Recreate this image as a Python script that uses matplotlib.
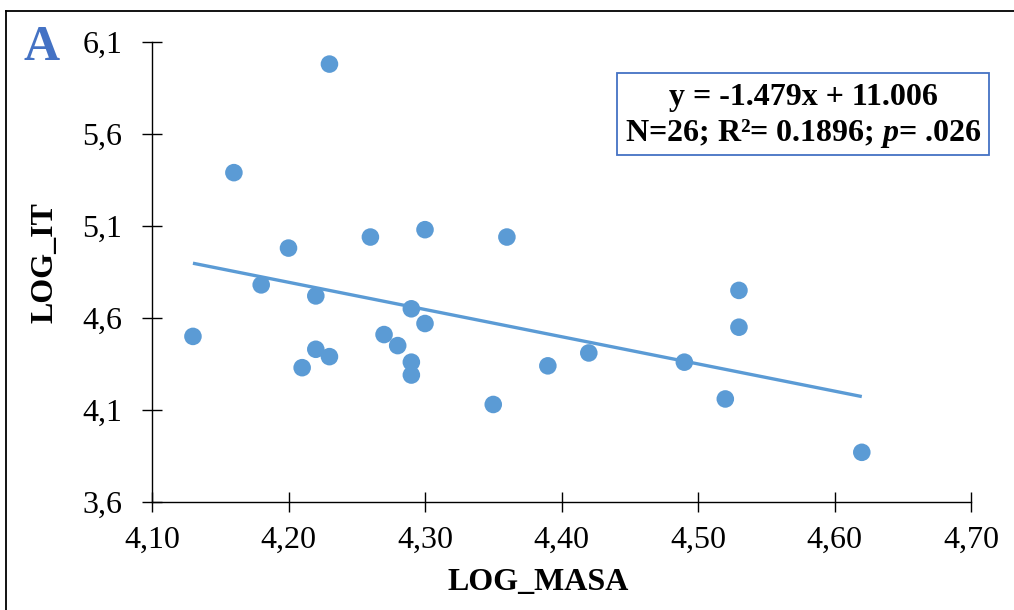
import matplotlib
matplotlib.use("Agg")
import matplotlib.pyplot as plt
from matplotlib.lines import Line2D
from matplotlib.patches import Rectangle
from matplotlib.ticker import FixedLocator, FuncFormatter
import numpy as np

plt.rcParams['font.family'] = ['Liberation Serif', 'DejaVu Serif']
plt.rcParams['mathtext.fontset'] = 'custom'
plt.rcParams['mathtext.it'] = 'Liberation Serif:bold:italic'
plt.rcParams['mathtext.rm'] = 'Liberation Serif:bold'
plt.rcParams['mathtext.bf'] = 'Liberation Serif:bold'

# Data
log_masa = [4.13, 4.16, 4.23, 4.20, 4.18, 4.22, 4.21, 4.22, 4.23, 4.26,
            4.27, 4.28, 4.29, 4.29, 4.29, 4.30, 4.30, 4.36, 4.35, 4.39,
            4.42, 4.49, 4.53, 4.53, 4.52, 4.62]
log_it = [4.50, 5.39, 5.98, 4.98, 4.78, 4.72, 4.33, 4.43, 4.39, 5.04,
          4.51, 4.45, 4.65, 4.36, 4.29, 5.08, 4.57, 5.04, 4.13, 4.34,
          4.41, 4.36, 4.75, 4.55, 4.16, 3.87]
slope = -1.479
intercept = 11.006
x_ticks = [4.10, 4.20, 4.30, 4.40, 4.50, 4.60, 4.70]
y_ticks = [3.6, 4.1, 4.6, 5.1, 5.6, 6.1]
eq_line = "y = -1.479x + 11.006"
stats_line = "N=26; R²= 0.1896; $p$= .026"

W, H = 1014, 610
fig = plt.figure(figsize=(W / 100, H / 100), dpi=100)
fig.patch.set_facecolor('white')

ax = fig.add_axes([152 / W, 1 - 502 / H, (971 - 152) / W, (502 - 42) / H])
blue = '#5B9BD5'

ax.scatter(log_masa, log_it, s=160, color=blue, edgecolors='none', zorder=3)
xl = np.array([min(log_masa), max(log_masa)])
ax.plot(xl, slope * xl + intercept, color=blue, lw=2.4, solid_capstyle='butt', zorder=2)

ax.set_xlim(x_ticks[0], x_ticks[-1])
ax.set_ylim(y_ticks[0], y_ticks[-1])
ax.xaxis.set_major_locator(FixedLocator(x_ticks))
ax.yaxis.set_major_locator(FixedLocator(y_ticks))
ax.xaxis.set_major_formatter(FuncFormatter(lambda v, p: f"{v:.2f}".replace('.', ',')))
ax.yaxis.set_major_formatter(FuncFormatter(lambda v, p: f"{v:.1f}".replace('.', ',')))
for s in ['top', 'right']:
    ax.spines[s].set_visible(False)
for s in ['left', 'bottom']:
    ax.spines[s].set_linewidth(1.0)
    ax.spines[s].set_color('black')
ax.tick_params(axis='both', direction='inout', length=13.7, width=1.0, labelsize=23)
ax.tick_params(axis='y', pad=14.5)
ax.tick_params(axis='x', pad=10)
ax.set_clip_on(False)

# axis labels
fig.text(538 / W, 1 - 583 / H, "LOG_MASA", ha='center', va='center',
         fontsize=23, fontweight='bold')
fig.text(45 / W, 1 - 263 / H, "LOG_IT", ha='center', va='center',
         fontsize=23, fontweight='bold', rotation=90)

# panel letter
fig.text(42 / W, 1 - 48 / H, "A", ha='center', va='center', fontsize=36,
         fontweight='bold', color='#4472C4')

# equation box
fig.patches.append(Rectangle((617 / W, 1 - 155 / H), (989 - 617) / W, (155 - 73) / H,
                             transform=fig.transFigure, fill=False,
                             edgecolor='#4472C4', lw=1.3))
fig.text(803 / W, 1 - 97 / H, eq_line, ha='center', va='center', fontsize=23,
         fontweight='bold')
fig.text(803 / W, 1 - 133 / H, stats_line, ha='center', va='center', fontsize=23,
         fontweight='bold')

# outer frame (left and top edges visible)
fig.add_artist(Line2D([6 / W, 6 / W], [0, 1 - 11 / H], transform=fig.transFigure,
                      color='black', lw=1.3))
fig.add_artist(Line2D([6 / W, 1], [1 - 11 / H, 1 - 11 / H], transform=fig.transFigure,
                      color='black', lw=1.3))

fig.savefig('out.png', dpi=100)
